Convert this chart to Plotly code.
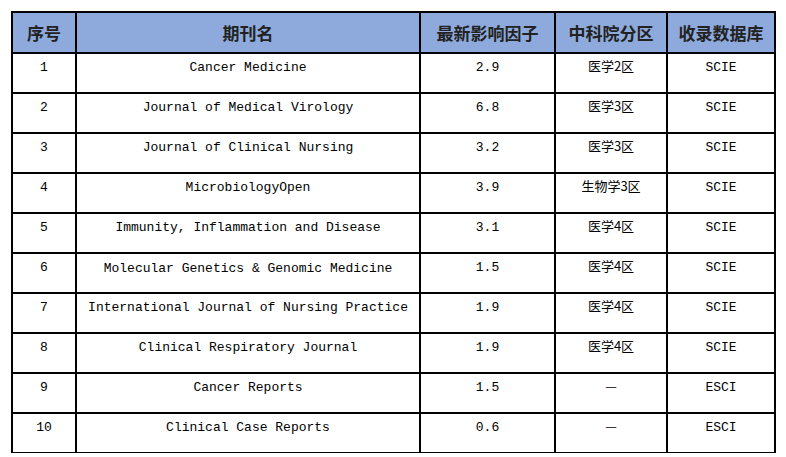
import plotly.graph_objects as go

headers = ['序号', '期刊名', '最新影响因子', '中科院分区', '收录数据库']
idx = [str(i) for i in range(1, 11)]
journals = ['Cancer Medicine', 'Journal of Medical Virology', 'Journal of Clinical Nursing',
            'MicrobiologyOpen', 'Immunity, Inflammation and Disease',
            'Molecular Genetics & Genomic Medicine', 'International Journal of Nursing Practice',
            'Clinical Respiratory Journal', 'Cancer Reports', 'Clinical Case Reports']
impact = ['2.9', '6.8', '3.2', '3.9', '3.1', '1.5', '1.9', '1.9', '1.5', '0.6']
zones = ['医学2区', '医学3区', '医学3区', '生物学3区', '医学4区', '医学4区', '医学4区', '医学4区', '—', '—']
dbs = ['SCIE'] * 8 + ['ESCI'] * 2

W, H = 786, 457
off = 8  # page body margin
mono = 'Liberation Mono, Noto Sans CJK SC'
cjk = 'Noto Sans CJK SC'

fig = go.Figure(go.Table(
    domain=dict(x=[(12 - off) / W, (776 - off) / W], y=[1 - (453 - off) / H, 1 - (12 - off) / H]),
    columnwidth=[64, 344, 135, 112, 108],
    header=dict(values=['<b>%s</b>' % h for h in headers],
                fill_color='#8EAADC', line=dict(color='black', width=1.3),
                align='center', height=40,
                font=dict(family=cjk, size=17, color='#222')),
    cells=dict(values=[idx, journals, impact, zones, dbs],
               fill_color='white', line=dict(color='black', width=1.3),
               align='center', height=40,
               font=dict(family=[mono, mono, mono, cjk, mono], size=13, color='black')),
))
fig.update_layout(width=W, height=H, margin=dict(l=0, r=0, t=0, b=0),
                  paper_bgcolor='white')
fig.write_html('out.html')
